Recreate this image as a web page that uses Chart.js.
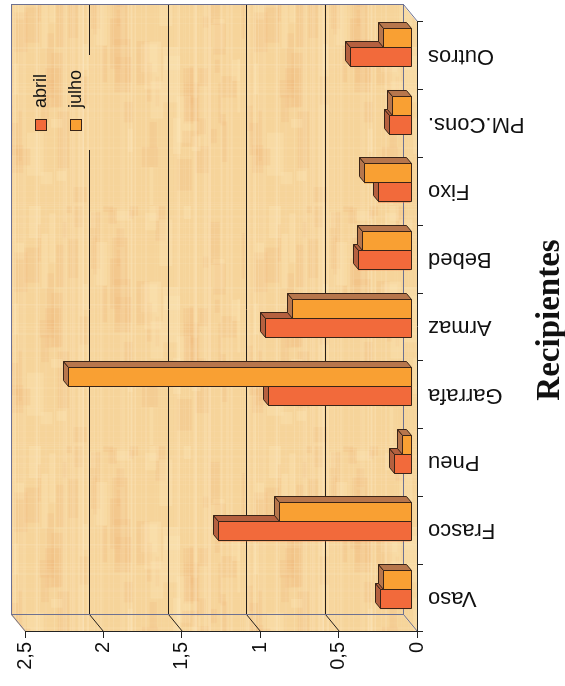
<!DOCTYPE html>
<html>
<head>
<meta charset="utf-8">
<script src="https://cdn.jsdelivr.net/npm/chart.js@4.4.1/dist/chart.umd.min.js"></script>
<style>
  html, body { margin: 0; padding: 0; background: #fff; overflow: hidden; }
  body { width: 565px; height: 686px; position: relative; }
  /* the chart is laid out upright, then turned a quarter turn */
  #stage {
    position: absolute; left: 0; top: 0; width: 686px; height: 565px;
    transform-origin: 0 0; transform: translate(0px, 686px) rotate(-90deg);
    background: #fff;
  }
  #c { position: absolute; left: 0; top: 0; }
  .leg { position: absolute; font: 18px "Liberation Sans", Arial, sans-serif; color: #111; line-height: 20px; white-space: nowrap; }
  .sw { position: absolute; width: 10px; height: 10px; border: 1px solid #3a2417; }
  #title {
    position: absolute; left: 216px; width: 300px; top: 530px; text-align: center;
    font: bold 33px "Liberation Serif", "Times New Roman", serif; line-height: 36px; color: #111;
  }
</style>
</head>
<body>
<div id="stage">
  <canvas id="c" width="686" height="565"></canvas>
  <div id="legend"></div>
  <div id="title">Recipientes</div>
</div>
<script>
// Containers surveyed, two collection months
const categories = ['Vaso', 'Frasco', 'Pneu', 'Garrafa', 'Armaz', 'Bebed', 'Fixo', 'PM.Cons.', 'Outros'];
const abril = [0.20, 1.23, 0.11, 0.91, 0.93, 0.34, 0.21, 0.14, 0.39];
const julho = [0.18, 0.84, 0.06, 2.19, 0.76, 0.31, 0.30, 0.12, 0.18];
const seriesNames = ['abril', 'julho'];
const valueTicks = [0, 0.5, 1, 1.5, 2, 2.5];
const valueTickLabels = ['0', '0,5', '1', '1,5', '2', '2,5'];

const frontColors = ['#F26A3B', '#F9A033'];
const faceColors = ['#B5603F', '#B7764C'];
const outline = '#3a2417';
const edgeColor = '#6d7191';
const gridColor = '#241e1a';

const WALL = { x: 17, y: -14 };   // depth offset of the back wall
const BARSHIFT = { x: 8, y: -6 }; // bars stand halfway into the box
const BARDEPTH = { x: 6, y: -5 }; // thickness of each bar

// papyrus-like paper for the walls
function hash(n) { const s = Math.sin(n * 127.1 + 311.7) * 43758.5453; return s - Math.floor(s); }
function makePaper() {
  const c = document.createElement('canvas'); c.width = 240; c.height = 240;
  const g = c.getContext('2d');
  g.fillStyle = '#F6D49A'; g.fillRect(0, 0, 240, 240);
  for (let k = 0; k < 90; k++) {
    g.fillStyle = k % 3 ? 'rgba(240,182,120,0.20)' : 'rgba(252,228,180,0.35)';
    g.fillRect(hash(k + 2000) * 240, hash(k + 2100) * 240, 8 + hash(k + 2200) * 50, 3 + hash(k + 2300) * 14);
  }
  for (let i = 0; i < 240; i++) {
    const h = hash(i);
    if (h > 0.6) { g.fillStyle = 'rgba(253,236,200,' + ((h - 0.6) * 0.7).toFixed(3) + ')'; g.fillRect(0, i, 240, 1 + Math.floor(hash(i + 500) * 3)); }
  }
  for (let i = 0; i < 240; i++) {
    const h = hash(i + 1000);
    if (h > 0.8) { g.fillStyle = 'rgba(252,232,196,' + ((h - 0.8) * 1.0).toFixed(3) + ')'; g.fillRect(i, 0, 1 + Math.floor(hash(i + 1500) * 2), 240); }
  }
  return c;
}
const paper = makePaper();

function poly(ctx, pts, fill) {
  ctx.beginPath();
  ctx.moveTo(pts[0][0], pts[0][1]);
  for (let i = 1; i < pts.length; i++) ctx.lineTo(pts[i][0], pts[i][1]);
  ctx.closePath();
  if (fill) { ctx.fillStyle = fill; ctx.fill(); }
  ctx.strokeStyle = outline; ctx.lineWidth = 1; ctx.stroke();
}
function line(ctx, x1, y1, x2, y2, color) {
  ctx.beginPath(); ctx.moveTo(x1, y1); ctx.lineTo(x2, y2);
  ctx.strokeStyle = color; ctx.lineWidth = 1; ctx.stroke();
}

const boxPlugin = {
  id: 'box3d',
  beforeDraw(chart) {
    const { ctx, chartArea: a, scales: { y } } = chart;
    const pat = ctx.createPattern(paper, 'repeat');
    const y0 = y.getPixelForValue(0), yTop = y.getPixelForValue(valueTicks[valueTicks.length - 1]);
    const L = a.left, R = a.right, dx = WALL.x, dy = WALL.y;
    ctx.save();
    ctx.fillStyle = pat;
    // back wall, side wall, floor
    ctx.fillRect(L + dx, yTop + dy, R - L, y0 - yTop);
    ctx.beginPath(); ctx.moveTo(L, yTop); ctx.lineTo(L, y0); ctx.lineTo(L + dx, y0 + dy); ctx.lineTo(L + dx, yTop + dy); ctx.closePath(); ctx.fill();
    ctx.beginPath(); ctx.moveTo(L, y0); ctx.lineTo(R, y0); ctx.lineTo(R + dx, y0 + dy); ctx.lineTo(L + dx, y0 + dy); ctx.closePath(); ctx.fill();
    ctx.translate(0.5, 0.5);
    // grid lines on the back wall and across the side wall
    valueTicks.forEach((v, i) => {
      const py = Math.round(y.getPixelForValue(v));
      const inner = i > 0 && i < valueTicks.length - 1;
      if (inner) line(ctx, L + dx, py + dy, R + dx, py + dy, gridColor);
      line(ctx, L, py, L + dx, py + dy, inner ? gridColor : edgeColor);
    });
    // box edges
    ctx.strokeStyle = edgeColor;
    ctx.strokeRect(L + dx, Math.round(yTop) + dy, R - L, Math.round(y0 - yTop));
    line(ctx, R, Math.round(y0), R + dx, Math.round(y0) + dy, edgeColor);
    ctx.restore();
    // legend backing, over the grid line
    ctx.save();
    ctx.fillStyle = pat;
    ctx.fillRect(536, 22, 95, 78);
    ctx.restore();
  },
  beforeDatasetsDraw(chart) {
    chart.ctx.save();
    chart.ctx.translate(BARSHIFT.x, BARSHIFT.y);
  },
  afterDatasetsDraw(chart) {
    const ctx = chart.ctx;
    const metas = [chart.getDatasetMeta(0), chart.getDatasetMeta(1)];
    const d = BARDEPTH;
    ctx.translate(0.5, 0.5);
    for (let i = 0; i < categories.length; i++) {
      metas.forEach((m, k) => {
        const el = m.data[i];
        const Lx = Math.round(el.x - el.width / 2), Rx = Math.round(el.x + el.width / 2);
        const T = Math.round(el.y), B = Math.round(el.base);
        poly(ctx, [[Lx, T], [Rx, T], [Rx, B], [Lx, B]], frontColors[k]);
        poly(ctx, [[Lx, T], [Rx, T], [Rx + d.x, T + d.y], [Lx + d.x, T + d.y]], faceColors[k]);
        poly(ctx, [[Rx, T], [Rx, B], [Rx + d.x, B + d.y], [Rx + d.x, T + d.y]], faceColors[k]);
      });
    }
    ctx.restore();
  }
};

new Chart(document.getElementById('c'), {
  type: 'bar',
  data: {
    labels: categories,
    datasets: [
      { label: seriesNames[0], data: abril, backgroundColor: frontColors[0], categoryPercentage: 0.56, barPercentage: 1.0 },
      { label: seriesNames[1], data: julho, backgroundColor: frontColors[1], categoryPercentage: 0.56, barPercentage: 1.0 }
    ]
  },
  options: {
    responsive: false,
    animation: false,
    devicePixelRatio: 1,
    layout: { padding: { top: 25, right: 22, left: 0, bottom: 0 } },
    plugins: { legend: { display: false }, tooltip: { enabled: false }, title: { display: false } },
    scales: {
      x: {
        type: 'category',
        offset: true,
        grid: { offset: true, drawOnChartArea: false, drawTicks: true, tickLength: 6, tickColor: '#222', color: '#222' },
        border: { display: true, color: '#222', width: 1 },
        ticks: {
          autoSkip: false, minRotation: 90, maxRotation: 90, padding: 5, color: '#111',
          font: { family: '"Liberation Sans", Arial, sans-serif', size: 22 }
        },
        afterFit(s) { s.height = 148; }
      },
      y: {
        min: valueTicks[0],
        max: valueTicks[valueTicks.length - 1],
        afterBuildTicks(s) { s.ticks = valueTicks.map(v => ({ value: v })); },
        grid: { drawOnChartArea: false, drawTicks: true, tickLength: 6, tickColor: '#222' },
        border: { display: true, color: '#222', width: 1 },
        ticks: {
          padding: 4, color: '#111',
          font: { family: '"Liberation Sans", Arial, sans-serif', size: 20 },
          callback(v) {
            const i = valueTicks.findIndex(t => Math.abs(t - v) < 1e-9);
            return i >= 0 ? valueTickLabels[i] : '';
          }
        },
        afterFit(s) { s.width = 54; }
      }
    }
  },
  plugins: [boxPlugin]
});

// legend, stacked in the upper right of the wall
const legend = document.getElementById('legend');
seriesNames.forEach((name, k) => {
  const row = document.createElement('div');
  row.className = 'leg';
  row.style.left = '555px';
  row.style.top = (30 + k * 35) + 'px';
  const sw = document.createElement('span');
  sw.className = 'sw';
  sw.style.left = '0px'; sw.style.top = '5px';
  sw.style.background = frontColors[k];
  const tx = document.createElement('span');
  tx.style.marginLeft = '23px';
  tx.textContent = name;
  row.appendChild(sw); row.appendChild(tx);
  legend.appendChild(row);
});
</script>
</body>
</html>
